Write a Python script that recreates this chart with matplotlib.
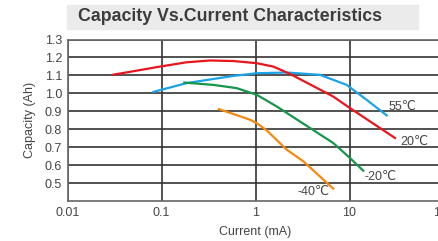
import numpy as np
import matplotlib
matplotlib.use("Agg")
import matplotlib.pyplot as plt
from matplotlib.patches import Rectangle

plt.rcParams['font.family'] = ['Liberation Sans', 'DejaVu Sans']

# curvas: corriente (mA) y capacidad (Ah)
i_55 = [0.082, 0.185, 0.58, 1.03, 2.15, 4.85, 9.33, 15.2, 24.9]
c_55 = [1.008, 1.057, 1.097, 1.112, 1.116, 1.103, 1.047, 0.964, 0.877]

i_20 = [0.0307, 0.050, 0.096, 0.185, 0.328, 0.58, 1.03, 1.55, 2.33, 6.72, 10.1, 30.5]
c_20 = [1.104, 1.123, 1.149, 1.173, 1.183, 1.180, 1.168, 1.149, 1.108, 0.982, 0.918, 0.751]

i_m20 = [0.175, 0.356, 0.63, 1.03, 1.68, 3.8, 6.72, 10.1, 14.0]
c_m20 = [1.060, 1.047, 1.029, 0.992, 0.927, 0.807, 0.723, 0.640, 0.569]

i_m40 = [0.409, 0.874, 1.03, 1.32, 2.15, 3.23, 6.72]
c_m40 = [0.912, 0.853, 0.834, 0.793, 0.686, 0.621, 0.469]

etiquetas = ['55℃', '20℃', '-20℃', '-40℃']
pos_x = [25.7, 34.5, 14.6, 2.83]
pos_y = [0.925, 0.731, 0.536, 0.453]

yticks = [0.5, 0.6, 0.7, 0.8, 0.9, 1.0, 1.1, 1.2, 1.3]
xticks = [0.01, 0.1, 1, 10, 100]
xlabels = ['0.01', '0.1', '1', '10', '100']

fig = plt.figure(figsize=(4.38, 2.41), dpi=100)
ax = fig.add_axes([67.5/438, 1-201/241, (443.5-67.5)/438, (201-39.5)/241])

gris = '#333333'
ax.plot(i_55, c_55, color='#1aa3e8', lw=1.6)
ax.plot(i_20, c_20, color='#e8141e', lw=1.6)
ax.plot(i_m20, c_m20, color='#15964a', lw=1.6)
ax.plot(i_m40, c_m40, color='#f5890f', lw=1.6)

for t, x, y in zip(etiquetas, pos_x, pos_y):
    ax.text(x, y, t, fontsize=9, color='#444444', va='center', ha='left')

ax.set_xscale('log')
ax.set_xlim(0.01, 100)
ax.set_ylim(0.4, 1.3)
ax.set_xticks(xticks)
ax.set_xticklabels(xlabels)
ax.minorticks_off()
ax.set_yticks(yticks)
ax.set_yticklabels(['%.1f' % v for v in yticks])
ax.tick_params(length=0, labelsize=9, labelcolor='#444444', pad=4)
ax.grid(True, color=gris, lw=1.2)
ax.set_axisbelow(True)
for s in ax.spines.values():
    s.set_color('#666666')
    s.set_linewidth(1.2)
ax.set_xlabel('Current (mA)', fontsize=9, color='#444444', labelpad=5)
ax.set_ylabel('Capacity (Ah)', fontsize=9, color='#444444', labelpad=6)

# titulo con fondo gris
fig.patches.append(Rectangle((67/438, 1-28.5/241), (418-67)/438, 23.5/241,
                             transform=fig.transFigure, color='#ebebeb', zorder=0))
fig.text(230/438, 1-16.5/241, 'Capacity Vs.Current Characteristics',
         fontsize=12.8, fontweight='bold', color='#3c3c3c', ha='center', va='center')

fig.savefig('out.png', dpi=100)
